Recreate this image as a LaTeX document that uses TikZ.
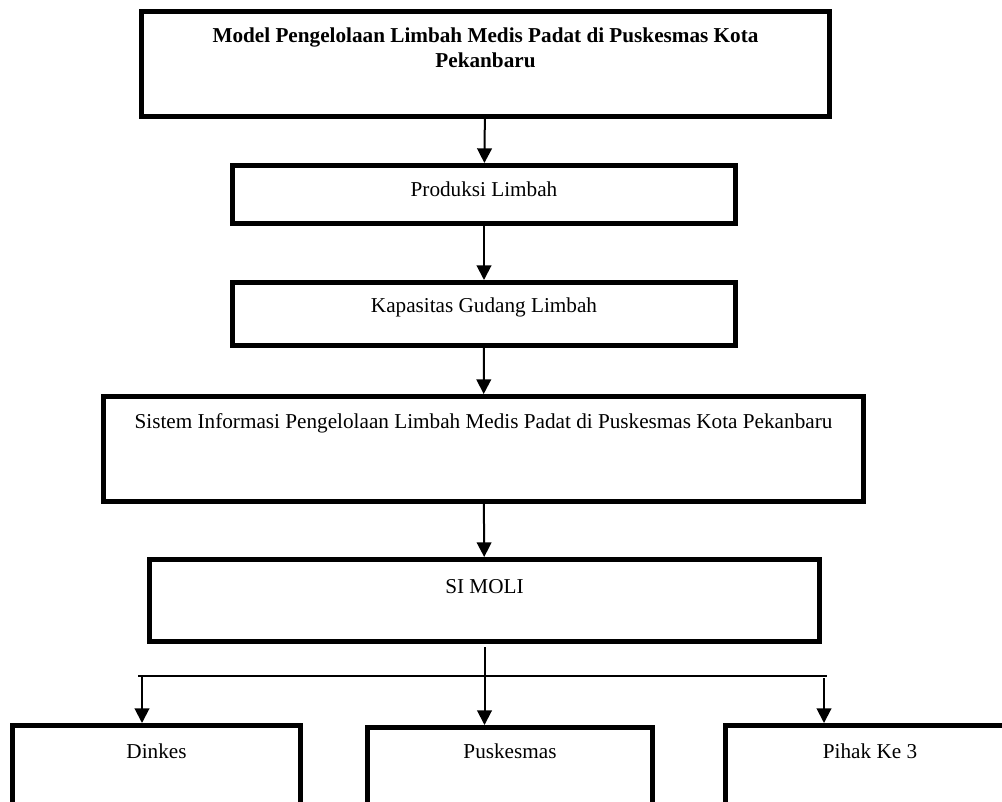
\documentclass[tikz,border=0pt]{standalone}
\usepackage{fontspec}
\setmainfont{Liberation Serif}
\usetikzlibrary{arrows.meta,positioning}

\begin{document}
\begin{tikzpicture}[x=0.75pt,y=-0.75pt,
  >={Triangle[width=11pt,length=11pt]},
  box/.style={draw,line width=3.75pt,inner sep=0pt},
  lbl/.style={font=\fontsize{15.9}{18.75}\selectfont,inner sep=0pt,anchor=base,align=center},
  arr/.style={->,line width=1.5pt}]
\path[use as bounding box,clip] (0,0) rectangle (1002,802);
  % kotak-kotak
  \node[box,minimum width=516pt,minimum height=78.75pt]    (model)  at (485.5,64)  {};
  \node[box,minimum width=377.25pt,minimum height=43.5pt]  (prod)   at (484,194.5) {};
  \node[box,minimum width=377.25pt,minimum height=47.25pt] (gudang) at (484,314)   {};
  \node[box,minimum width=570pt,minimum height=78.75pt]    (sistem) at (483.5,449) {};
  \node[box,minimum width=502.5pt,minimum height=61.5pt]   (simoli) at (484.5,600.5) {};
  \node[box,minimum width=216pt,minimum height=76.5pt]     (dinkes) at (156.5,776.5) {};
  \node[box,minimum width=213.75pt,minimum height=75pt]    (pusk)   at (510,777.5) {};
  \node[box,minimum width=216.75pt,minimum height=76.5pt]  (pihak)  at (870,776.5) {};
  % teks
  \node[lbl,font=\fontsize{15.9}{18.75}\selectfont\bfseries] (tmodel) at (485.5,68)
    {Model Pengelolaan Limbah Medis Padat di Puskesmas Kota\\Pekanbaru};
  \node[lbl] (tprod)   at (484,197)   {Produksi Limbah};
  \node[lbl] (tgudang) at (484,312)   {Kapasitas Gudang Limbah};
  \node[lbl] (tsistem) at (483.5,428) {Sistem Informasi Pengelolaan Limbah Medis Padat di Puskesmas Kota Pekanbaru};
  \node[lbl] (tsimoli) at (484.5,593) {SI MOLI};
  \node[lbl] (tdinkes) at (156.5,758) {Dinkes};
  \node[lbl] (tpusk)   at (510,758)   {Puskesmas};
  \node[lbl] (tpihak)  at (870,758)   {Pihak Ke 3};
  % panah
\path (model)  edge [arr] (prod)
      (prod)   edge [arr] (gudang)
      (gudang) edge [arr] (sistem)
      (sistem) edge [arr] (simoli);
  \coordinate (kiri)  at (142,676);
  \coordinate (kanan) at (824,676);
  \draw[line width=1.5pt] ([xshift=-3pt]kiri) -- ([xshift=2.25pt]kanan);
  \draw[arr] ([yshift=-2.25pt]simoli.south) -- (simoli.south |- pusk.north);
  \draw[arr] (kiri) -- (kiri |- dinkes.north);
  \draw[arr] ([yshift=-1.5pt]kanan) -- (kanan |- pihak.north);
\end{tikzpicture}
\end{document}
